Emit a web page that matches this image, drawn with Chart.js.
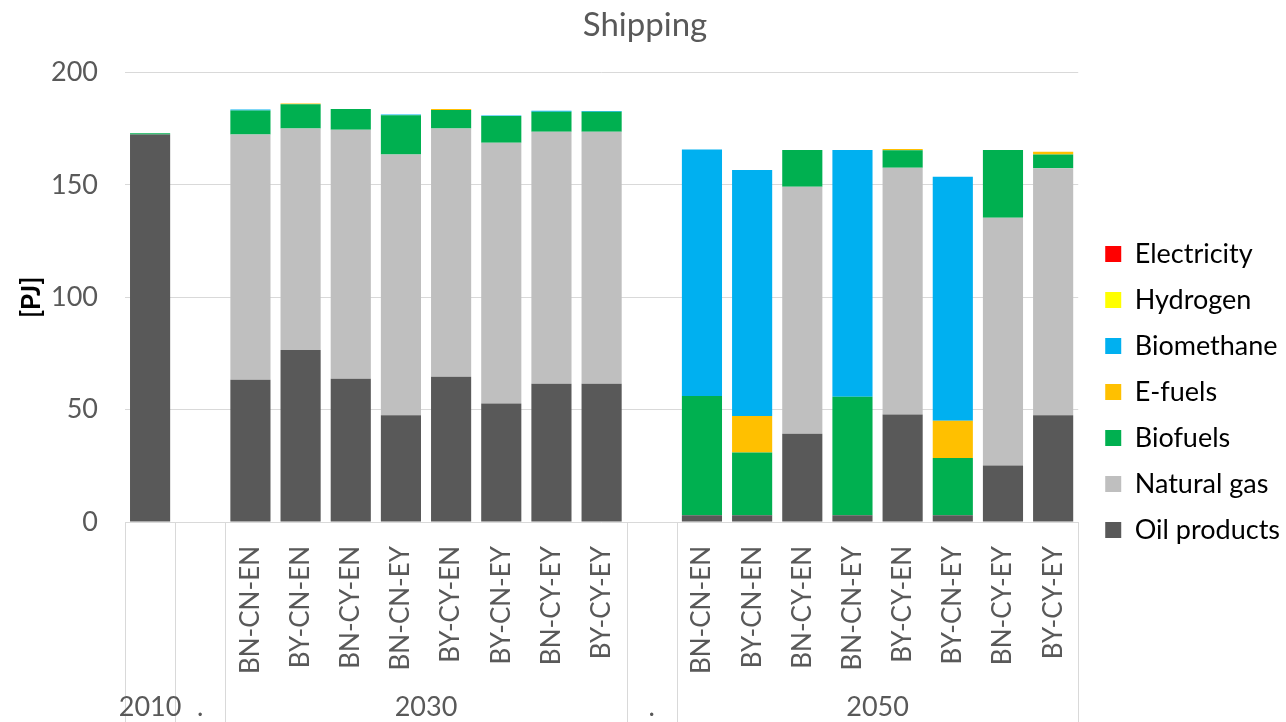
<!DOCTYPE html>
<html>
<head>
<meta charset="utf-8">
<script src="https://cdn.jsdelivr.net/npm/chart.js@4.4.1/dist/chart.umd.min.js"></script>
<style>
  html, body { margin: 0; padding: 0; background: #fff; }
  #wrap { width: 1286px; height: 722px; position: relative; }
</style>
</head>
<body>
<div id="wrap"><canvas id="shippingChart"></canvas></div>
<script>
// inner category labels (scenario), gaps are empty slots
const scenarios = ['BN-CN-EN', 'BY-CN-EN', 'BN-CY-EN', 'BN-CN-EY', 'BY-CY-EN', 'BY-CN-EY', 'BN-CY-EY', 'BY-CY-EY'];
const categories = ['', ''].concat(scenarios, [''], scenarios);

// outer groups: label and the index range of slots it covers
const groupLabels = ['2010', '.', '2030', '.', '2050'];
const groupStart = [0, 1, 2, 10, 11];
const groupEnd = [0, 1, 9, 10, 18];

// values in PJ
const oilProducts = [172.5, null, 63.3, 76.5, 63.7, 47.5, 64.6, 52.7, 61.5, 61.5, null, 3.0, 3.0, 39.3, 3.0, 47.8, 3.0, 25.1, 47.5];
const naturalGas  = [0, null, 109.1, 98.6, 110.9, 116.0, 110.5, 116.1, 112.2, 112.2, null, 0, 0, 109.9, 0, 109.9, 0, 110.3, 109.9];
const biofuels    = [0.5, null, 10.7, 10.8, 9.2, 17.5, 8.3, 11.9, 8.9, 8.9, null, 53.1, 27.9, 16.4, 52.7, 7.7, 25.5, 30.2, 6.2];
const eFuels      = [0, null, 0, 0.4, 0, 0, 0.4, 0, 0, 0, null, 0, 16.3, 0, 0, 0.6, 16.6, 0, 1.2];
const biomethane  = [0, null, 0.5, 0, 0, 0.4, 0, 0.2, 0.4, 0.3, null, 109.7, 109.5, 0, 109.9, 0, 108.6, 0, 0];
const hydrogen    = [0, null, 0, 0, 0, 0, 0, 0, 0, 0, null, 0, 0, 0, 0, 0, 0, 0, 0];
const electricity = [0, null, 0, 0, 0, 0, 0, 0, 0, 0, null, 0, 0, 0, 0, 0, 0, 0, 0];

const yTicks = [0, 50, 100, 150, 200];

const axisGrey = '#595959';
const gridGrey = '#D9D9D9';
const fontFamily = 'Lato, "Open Sans", sans-serif';

function series(label, data, color) {
  return { label: label, data: data, backgroundColor: color, borderWidth: 0 };
}

// draws the outer year row and the separator lines under the plot
const groupAxisPlugin = {
  id: 'groupAxis',
  afterLayout(chart) {
    // nudge the legend column down and right, like the original
    chart.legend.top += 62;
    chart.legend.left += 8;
    chart.legend.right += 8;
  },
  afterDraw(chart) {
    const ctx = chart.ctx;
    const x = chart.scales.x;
    const slot = x.getPixelForValue(1) - x.getPixelForValue(0);
    const top = x.top;
    const bottom = chart.height;
    ctx.save();
    ctx.strokeStyle = gridGrey;
    ctx.lineWidth = 1;
    const edges = [];
    groupStart.forEach(s => edges.push(x.getPixelForValue(s) - slot / 2));
    edges.push(x.getPixelForValue(groupEnd[groupEnd.length - 1]) + slot / 2);
    edges.forEach(px => {
      ctx.beginPath();
      ctx.moveTo(Math.round(px) + 0.5, top);
      ctx.lineTo(Math.round(px) + 0.5, bottom);
      ctx.stroke();
    });
    ctx.fillStyle = axisGrey;
    ctx.font = '27px ' + fontFamily;
    ctx.textAlign = 'center';
    ctx.textBaseline = 'middle';
    groupLabels.forEach((lab, i) => {
      const cx = (x.getPixelForValue(groupStart[i]) + x.getPixelForValue(groupEnd[i])) / 2;
      ctx.fillText(lab, cx, 707);
    });
    ctx.restore();
  }
};

new Chart(document.getElementById('shippingChart'), {
  type: 'bar',
  data: {
    labels: categories,
    datasets: [
      series('Oil products', oilProducts, '#595959'),
      series('Natural gas', naturalGas, '#BFBFBF'),
      series('Biofuels', biofuels, '#00B050'),
      series('E-fuels', eFuels, '#FFC000'),
      series('Biomethane', biomethane, '#00B0F0'),
      series('Hydrogen', hydrogen, '#FFFF00'),
      series('Electricity', electricity, '#FF0000')
    ]
  },
  options: {
    responsive: true,
    maintainAspectRatio: false,
    animation: false,
    layout: { padding: { left: 8, right: 4, top: 0, bottom: 0 } },
    datasets: { bar: { barPercentage: 0.8, categoryPercentage: 1.0 } },
    plugins: {
      title: {
        display: true,
        text: 'Shipping',
        color: axisGrey,
        font: { family: fontFamily, size: 33, weight: 'normal' },
        padding: { top: 6, bottom: 27 }
      },
      legend: {
        position: 'right',
        reverse: true,
        labels: {
          color: '#000',
          boxWidth: 16,
          boxHeight: 16,
          padding: 19,
          font: { family: fontFamily, size: 27 }
        }
      },
      tooltip: { enabled: false }
    },
    scales: {
      x: {
        stacked: true,
        grid: { display: false, drawTicks: false },
        border: { display: false },
        ticks: {
          autoSkip: false,
          minRotation: 90,
          maxRotation: 90,
          padding: 24,
          color: axisGrey,
          font: { family: fontFamily, size: 26 }
        },
        afterFit(scale) { scale.height = 200; }
      },
      y: {
        stacked: true,
        min: 0,
        max: 200,
        afterBuildTicks(scale) { scale.ticks = yTicks.map(v => ({ value: v })); },
        afterFit(scale) { scale.width = 117; },
        grid: { color: gridGrey, drawTicks: false },
        border: { display: false },
        ticks: {
          padding: 27,
          color: axisGrey,
          font: { family: fontFamily, size: 27 }
        },
        title: {
          display: true,
          text: '[PJ]',
          color: '#000',
          padding: { top: 8, bottom: 8 },
          font: { family: fontFamily, size: 26, weight: 'bold' }
        }
      }
    }
  },
  plugins: [groupAxisPlugin]
});
</script>
</body>
</html>
